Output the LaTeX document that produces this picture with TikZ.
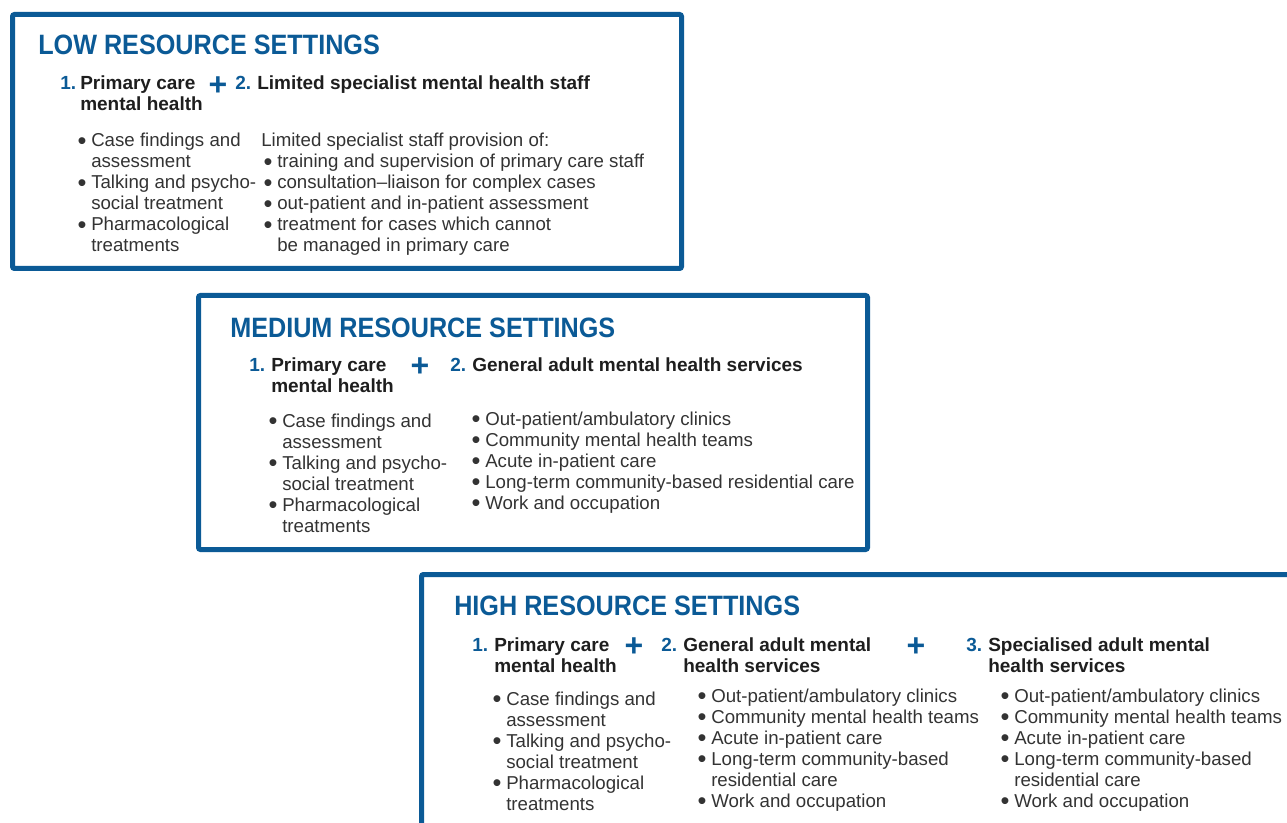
\documentclass[tikz,border=0pt]{standalone}
\usepackage{fontspec}
\setmainfont{Liberation Sans}
\newfontfamily\titlefont[FakeStretch=0.9]{Liberation Sans}
\definecolor{boxblue}{HTML}{0B5A96}
\definecolor{txt}{HTML}{333333}
\definecolor{hd}{HTML}{1E1E1E}
\newcommand\bul{\llap{\fontsize{19pt}{19pt}\selectfont\raisebox{-1.6pt}{\textbullet}\hspace{3.5pt}}}
\newcommand\ind{\hspace{12pt}}
\tikzset{
  frame/.style={draw=boxblue, line width=3.75pt, rounded corners=1.5pt},
  ttl/.style={anchor=base west, inner sep=0pt, font=\titlefont\bfseries\fontsize{21pt}{21pt}\selectfont, text=boxblue},
  num/.style={anchor=base west, inner sep=0pt, font=\bfseries\fontsize{14.25pt}{15.75pt}\selectfont, text=boxblue},
  hdg/.style={anchor=base west, inner sep=0pt, align=left, font=\bfseries\fontsize{14.25pt}{15.75pt}\selectfont, text=hd},
  body/.style={anchor=base west, inner sep=0pt, align=left, font=\fontsize{14pt}{15.75pt}\selectfont, text=txt},
  plus/.style={inner sep=0pt, font=\bfseries\fontsize{24pt}{24pt}\selectfont, text=boxblue},
}
\begin{document}
\begin{tikzpicture}[x=0.75pt, y=-0.75pt]
\useasboundingbox (0,0) rectangle (1287,823);
\clip (0,0) rectangle (1287,823);
% frames
\draw[frame] (12.5,14.5) rectangle (681.5,268.5);
\draw[frame] (198.5,295.5) rectangle (867.5,549.5);
\draw[frame] (421.5,574.5) rectangle (1320,860);
% box 1 (multi-line nodes are placed by the baseline of their last line)
\node[ttl] (t1) at (38,55) {LOW RESOURCE SETTINGS};
\node[num] (n11) at (60,90) {1.};
\node[hdg] (h11) at (80,111) {Primary care\\mental health};
\node[plus] (p1) at (218,86) {+};
\node[num] (n12) at (235,90) {2.};
\node[hdg] (h12) at (257,90) {Limited specialist mental health staff};
\node[body] (c11) at (91,252) {\bul Case findings and\\assessment\\\bul Talking and psycho-\\social treatment\\\bul Pharmacological\\treatments};
\node[body] (c12) at (261,252) {Limited specialist staff provision of:\\\ind\bul training and supervision of primary care staff\\\ind\bul consultation--liaison for complex cases\\\ind\bul out-patient and in-patient assessment\\\ind\bul treatment for cases which cannot\\\ind be managed in primary care};
% box 2
\node[ttl] (t2) at (230,337) {MEDIUM RESOURCE SETTINGS};
\node[num] (n21) at (249,371.5) {1.};
\node[hdg] (h21) at (271,392.5) {Primary care\\mental health};
\node[plus] (p2) at (420,367.5) {+};
\node[num] (n22) at (450,371.5) {2.};
\node[hdg] (h22) at (472,371.5) {General adult mental health services};
\node[body] (c21) at (282,532.5) {\bul Case findings and\\assessment\\\bul Talking and psycho-\\social treatment\\\bul Pharmacological\\treatments};
\node[body] (c22) at (485,509.5) {\bul Out-patient/ambulatory clinics\\\bul Community mental health teams\\\bul Acute in-patient care\\\bul Long-term community-based residential care\\\bul Work and occupation};
% box 3
\node[ttl] (t3) at (454,615) {HIGH RESOURCE SETTINGS};
\node[num] (n31) at (472,651) {1.};
\node[hdg] (h31) at (494,672) {Primary care\\mental health};
\node[plus] (p3) at (634,647) {+};
\node[num] (n32) at (661,651) {2.};
\node[hdg] (h32) at (683,672) {General adult mental\\health services};
\node[plus] (p4) at (916,647) {+};
\node[num] (n33) at (966,651) {3.};
\node[hdg] (h33) at (988,672) {Specialised adult mental\\health services};
\node[body] (c31) at (506,810) {\bul Case findings and\\assessment\\\bul Talking and psycho-\\social treatment\\\bul Pharmacological\\treatments};
\node[body] (c32) at (711,807) {\bul Out-patient/ambulatory clinics\\\bul Community mental health teams\\\bul Acute in-patient care\\\bul Long-term community-based\\residential care\\\bul Work and occupation};
\node[body] (c33) at (1014,807) {\bul Out-patient/ambulatory clinics\\\bul Community mental health teams\\\bul Acute in-patient care\\\bul Long-term community-based\\residential care\\\bul Work and occupation};
\end{tikzpicture}
\end{document}
